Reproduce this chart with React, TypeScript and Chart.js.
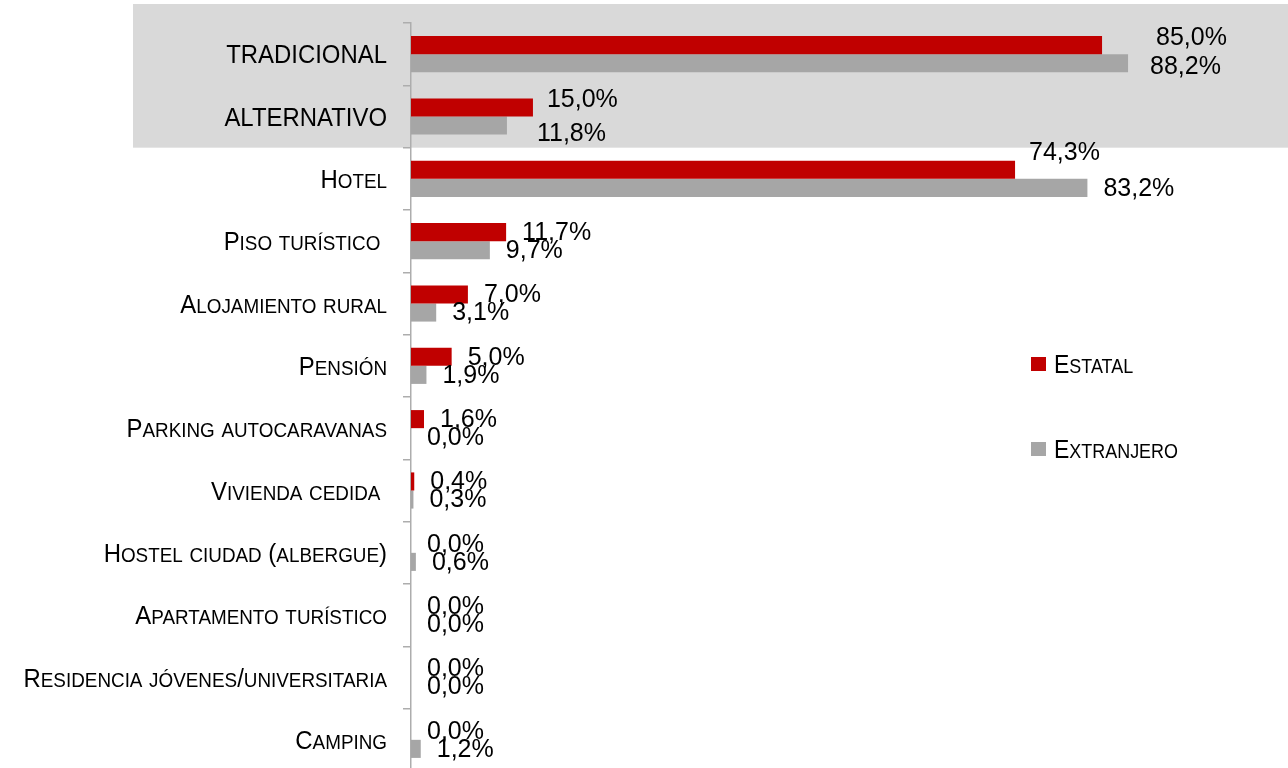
import React, { useEffect, useRef } from 'react';
import { Chart, registerables } from 'chart.js';

Chart.register(...registerables);

// ---------- data ----------
const categories = [
  'TRADICIONAL',
  'ALTERNATIVO',
  'Hotel',
  'Piso turístico ',
  'Alojamiento rural',
  'Pensión',
  'Parking autocaravanas',
  'Vivienda cedida ',
  'Hostel ciudad (albergue)',
  'Apartamento turístico',
  'Residencia jóvenes/universitaria',
  'Camping',
];
const estatal = [85.0, 15.0, 74.3, 11.7, 7.0, 5.0, 1.6, 0.4, 0.0, 0.0, 0.0, 0.0];
const extranjero = [88.2, 11.8, 83.2, 9.7, 3.1, 1.9, 0.0, 0.3, 0.6, 0.0, 0.0, 1.2];
const seriesNames = ['Estatal', 'Extranjero'];

// ---------- style ----------
const seriesColors = ['#c00000', '#a6a6a6'];
const FONT = '"Liberation Sans", Arial, sans-serif';
const X_MAX = 100;
const AXIS_COLOR = '#adadad';
// manual label nudges [dx, dy] keyed by "dataset-index" (as in the original chart)
const labelNudges: Record<string, [number, number]> = {
  '0-0': [38, -7.5],
  '1-0': [6, 3.5],
  '0-1': [-2, -7],
  '1-1': [14, 9],
  '0-2': [-2, -16.5],
  '1-2': [0, 1],
};

function drawSmallCaps(
  ctx: CanvasRenderingContext2D,
  text: string,
  x: number,
  baseline: number,
  align: 'left' | 'right',
  big: number,
  small: number,
  hScale: number
) {
  const runs: { t: string; s: number }[] = [];
  for (const ch of text) {
    const isLower = ch !== ch.toUpperCase();
    const size = isLower ? small : big;
    const out = isLower ? ch.toUpperCase() : ch;
    if (runs.length && runs[runs.length - 1].s === size) runs[runs.length - 1].t += out;
    else runs.push({ t: out, s: size });
  }
  let total = 0;
  const widths = runs.map((r) => {
    ctx.font = `${r.s}px ${FONT}`;
    const w = ctx.measureText(r.t).width;
    total += w;
    return w;
  });
  ctx.save();
  ctx.translate(x, baseline);
  ctx.scale(hScale, 1);
  let cx = align === 'right' ? -total : 0;
  ctx.textAlign = 'left';
  ctx.textBaseline = 'alphabetic';
  runs.forEach((r, i) => {
    ctx.font = `${r.s}px ${FONT}`;
    ctx.fillText(r.t, cx, 0);
    cx += widths[i];
  });
  ctx.restore();
}

const customPlugin = {
  id: 'customDraw',
  beforeDraw(chart: any) {
    const { ctx, chartArea, scales } = chart;
    const y = scales.y;
    const step = y.getPixelForValue(1) - y.getPixelForValue(0);
    const bottom = y.getPixelForValue(1) + step / 2;
    const top = chartArea.top - 19;
    ctx.save();
    ctx.fillStyle = '#d9d9d9';
    ctx.fillRect(133, top, chart.width - 133, bottom - top);
    ctx.restore();
  },
  afterDatasetsDraw(chart: any) {
    const { ctx } = chart;
    ctx.save();
    ctx.fillStyle = '#000000';
    ctx.font = `25px ${FONT}`;
    ctx.textAlign = 'left';
    ctx.textBaseline = 'middle';
    chart.data.datasets.forEach((ds: any, di: number) => {
      const meta = chart.getDatasetMeta(di);
      meta.data.forEach((el: any, i: number) => {
        const v = ds.data[i] as number;
        const txt = v.toFixed(1).replace('.', ',') + '%';
        const nudge = labelNudges[`${di}-${i}`] || [0, 1];
        ctx.fillText(txt, el.x + 16 + nudge[0], el.y + nudge[1]);
      });
    });
    ctx.restore();
  },
  afterDraw(chart: any) {
    const { ctx, scales } = chart;
    const y = scales.y;
    ctx.save();
    ctx.fillStyle = '#000000';
    categories.forEach((label, i) => {
      const cy = y.getPixelForValue(i);
      drawSmallCaps(ctx, label, 387, cy + 9.3, 'right', 26, 20.5, 0.92);
    });
    // legend
    const legendY = [364, 449];
    seriesNames.forEach((name, i) => {
      ctx.fillStyle = seriesColors[i];
      ctx.fillRect(1031, legendY[i] - 7, 15, 14);
      ctx.fillStyle = '#000000';
      drawSmallCaps(ctx, name, 1054, legendY[i] + 9, 'left', 25, 19.5, 0.92);
    });
    ctx.restore();
  },
};

export default function App() {
  const canvasRef = useRef<HTMLCanvasElement | null>(null);

  useEffect(() => {
    if (!canvasRef.current) return;
    const chart = new Chart(canvasRef.current, {
      type: 'bar',
      data: {
        labels: categories,
        datasets: [
          {
            label: seriesNames[0],
            data: estatal,
            backgroundColor: seriesColors[0],
            categoryPercentage: 0.58,
            barPercentage: 1,
          },
          {
            label: seriesNames[1],
            data: extranjero,
            backgroundColor: seriesColors[1],
            categoryPercentage: 0.58,
            barPercentage: 1,
          },
        ],
      },
      options: {
        indexAxis: 'y',
        responsive: false,
        animation: false,
        devicePixelRatio: 1,
        layout: { padding: { top: 23, right: 64, bottom: 0, left: 0 } },
        plugins: {
          legend: { display: false },
          tooltip: { enabled: false },
        },
        scales: {
          x: { display: false, min: 0, max: X_MAX },
          y: {
            position: 'left',
            offset: true,
            grid: {
              offset: true,
              drawOnChartArea: false,
              drawTicks: true,
              tickLength: 8,
              color: AXIS_COLOR,
              lineWidth: 1.5,
            },
            border: { display: true, color: AXIS_COLOR, width: 1.5 },
            ticks: { display: false },
            afterFit: (s: any) => {
              s.width = 411;
            },
          },
        },
      } as any,
      plugins: [customPlugin],
    });
    return () => chart.destroy();
  }, []);

  return (
    <div
      style={{
        position: 'fixed',
        left: 0,
        top: 0,
        width: 1288,
        height: 768,
        overflow: 'hidden',
        background: '#ffffff',
      }}
    >
      <canvas ref={canvasRef} width={1288} height={771} style={{ display: 'block' }} />
    </div>
  );
}
